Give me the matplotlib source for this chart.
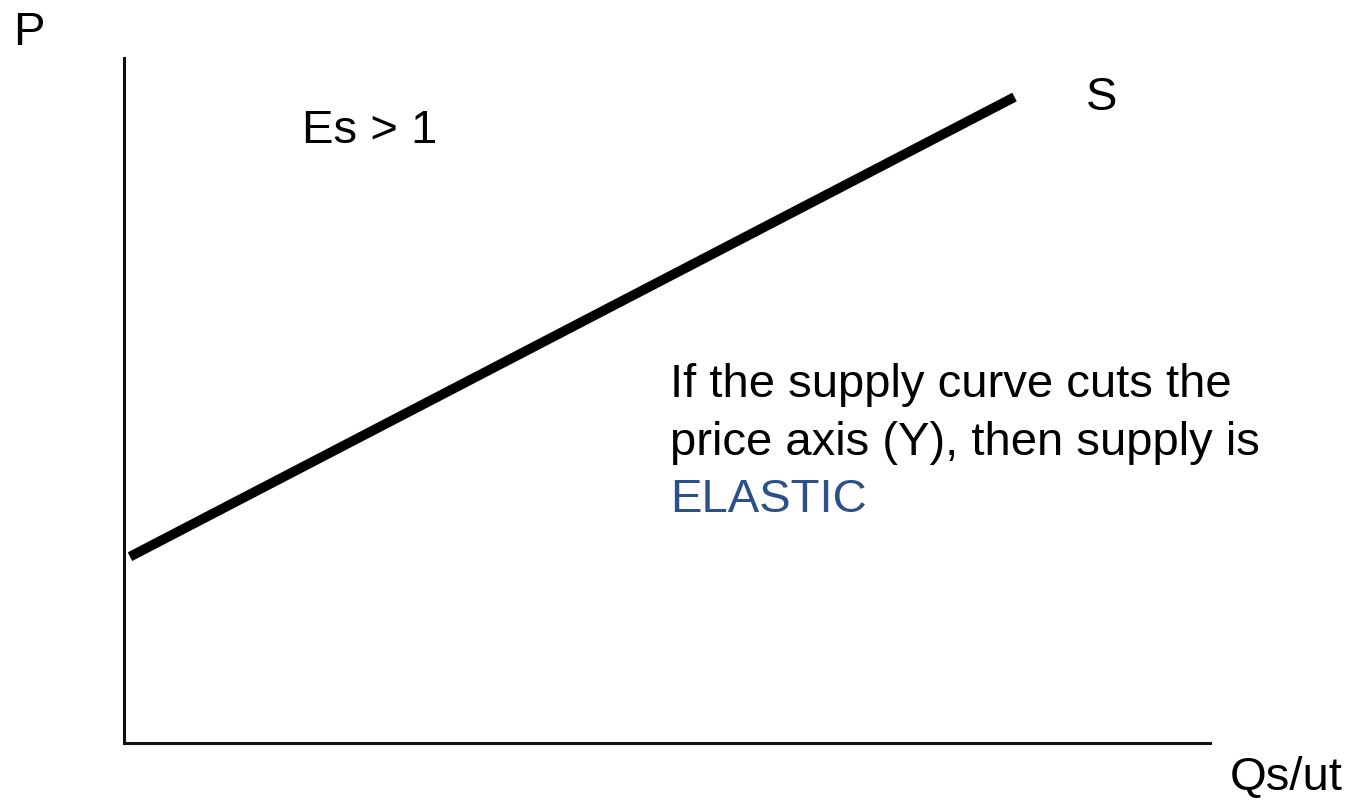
import matplotlib

matplotlib.use("Agg")
import matplotlib.pyplot as plt

plt.rcParams["font.family"] = ["Liberation Sans", "DejaVu Sans"]

# supply line end points (quantity, price) on a 0..10 scale
supply_q = [0.055, 8.20]
supply_p = [2.72, 9.43]

note_lines = ["If the supply curve cuts the", "price axis (Y), then supply is"]
note_word = "ELASTIC"

fig = plt.figure(figsize=(13.5, 8.01), dpi=100)
ax = fig.add_axes([124 / 1350, 58 / 801, 1086 / 1350, 685 / 801])
ax.set_xlim(0, 10)
ax.set_ylim(0, 10)

ax.plot(supply_q, supply_p, color="black", linewidth=7, solid_capstyle="butt")

for side in ("top", "right"):
    ax.spines[side].set_visible(False)
for side in ("left", "bottom"):
    ax.spines[side].set_linewidth(2.2)
    ax.spines[side].set_color("#111111")
ax.set_xticks([])
ax.set_yticks([])

fs = 34
ax.text(-1.02, 10.19, "P", fontsize=fs, va="baseline", ha="left", clip_on=False)
ax.text(10.18, -0.69, "Qs/ut", fontsize=fs, va="baseline", ha="left", clip_on=False)
ax.text(1.64, 8.76, "Es > 1", fontsize=fs, va="baseline", ha="left")
ax.text(8.86, 9.24, "S", fontsize=fs, va="baseline", ha="left")
ax.text(5.03, 5.05, note_lines[0], fontsize=fs, va="baseline", ha="left")
ax.text(5.03, 4.20, note_lines[1], fontsize=fs, va="baseline", ha="left")
ax.text(5.03, 3.37, note_word, fontsize=fs, va="baseline", ha="left", color="#2a5189")

fig.savefig("out.png", dpi=100)
